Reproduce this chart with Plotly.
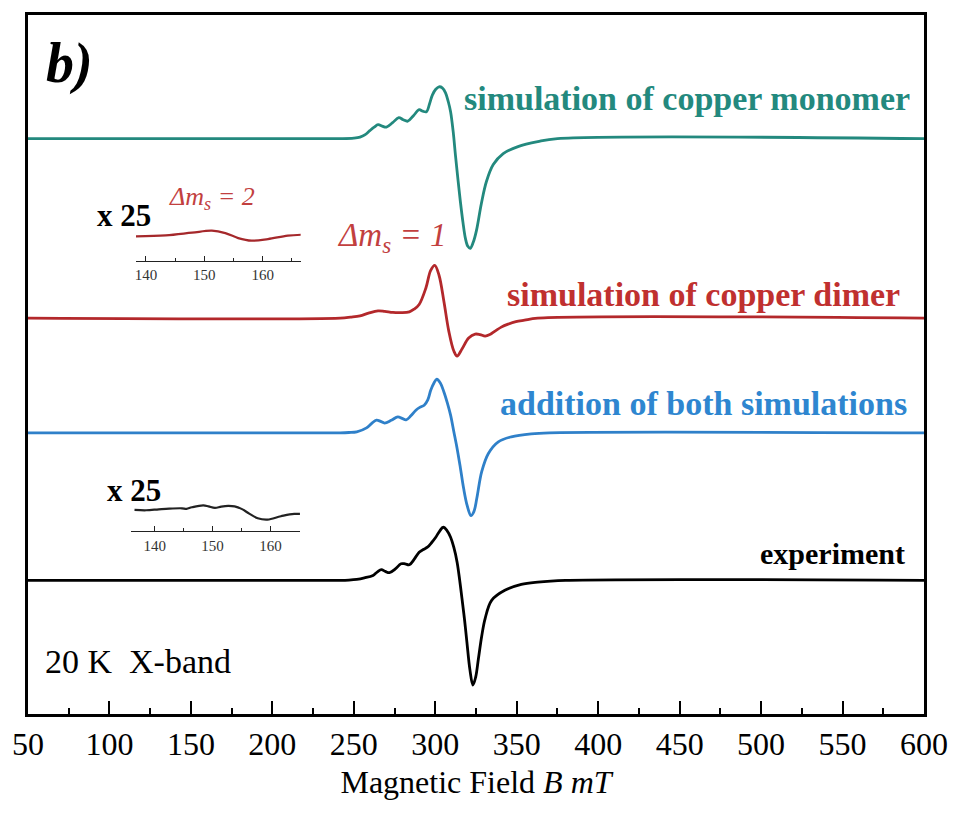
import plotly.graph_objects as go

# ---------------- data (field in mT, amplitude in arbitrary units) ----------------
monomer_B = [50, 241.6, 250.0, 253.8, 257.0, 259.8, 262.5, 264.9, 267.5, 270.0, 273.8, 277.6,
             280.3, 283.1, 286.6, 290.1, 292.3, 294.6, 296.5, 298.2, 300.3, 302.3, 304.3,
             306.3, 308.0, 309.4, 311.0, 312.4, 314.0, 315.4, 317.0, 318.5, 320.0, 321.5,
             323.3, 325.3, 328.3, 331.4, 335.6, 341.7, 350.8, 362.9, 375, 600]
monomer_A = [0, 0, 0.5, 1.5, 4, 8, 11.5, 14, 12.5, 11.5, 16, 21,
             19, 17.5, 23, 29, 27.5, 27, 35, 43.7, 49.5, 52, 51,
             46, 37, 27, 7, -16.7, -42, -63, -84, -100, -108, -110,
             -104, -92, -65, -43, -26, -15, -8, -3, 0, 0]

dimer_B = [50, 241.6, 248, 253.8, 259, 264.9, 269, 274.0, 279, 284.1, 287, 290.1, 294.2,
           297.2, 299.7, 302.3, 305.3, 308.3, 311.4, 313.4, 316.4, 320.5, 324.5, 327.5,
           330.6, 333.5, 336.7, 340.5, 344.7, 349.5, 354.8, 362.9, 600]
dimer_A = [0, 0, 1, 2.3, 5, 7.3, 6.8, 5.7, 5.5, 6.3, 9, 13.7, 30,
           48, 53, 43, 16.7, -13, -33, -38, -31, -20, -16, -16.5,
           -18, -16.5, -13, -9, -6, -3.5, -2, 0, 0]

sum_B = [50, 241.6, 247, 251.8, 257.8, 261, 263.9, 266.4, 268.9, 273, 277.0, 279.6, 282.1,
         285, 288.1, 290.5, 293.2, 295.4, 297.2, 299.2, 300.9, 303.1, 305.3, 307.4, 309.4,
         311.4, 313.4, 315.4, 317.4, 319.6, 321.9, 323.7, 325.5, 328.5, 332.6, 338.7,
         346.7, 358.9, 370, 600]
sum_A = [0, 0, 0.3, 1, 5, 9.5, 12.7, 11.5, 9.8, 12.5, 16, 14.5, 13,
         17, 22.7, 25.5, 27.7, 33, 42.7, 50, 53.7, 50, 41, 30, 17.7,
         1, -15.7, -35, -55.7, -73, -83, -79, -65.7, -39, -20.7, -9,
         -4, -1, 0, 0]

exp_B = [50, 241.6, 247, 251.8, 256.5, 261.8, 264.5, 266.9, 269.3, 271.9, 275.5, 279.0,
         281.5, 284.1, 287, 290.1, 292.7, 295.2, 297.8, 300.3, 302.7, 304.9, 307.2, 309.4,
         311.4, 313.4, 315.0, 316.4, 318.0, 319.4, 321.3, 323.1, 324.8, 326.5, 328.5,
         330.6, 334.6, 342.7, 352.8, 362.9, 380, 600]
exp_A = [0, 0, 0.3, 1, 2.5, 5, 8.5, 10.7, 9, 7.7, 11.5, 16.7,
         16.5, 15.7, 21, 28.3, 31, 33.3, 38, 43.3, 49.5, 53.3, 50, 43.3,
         33, 18.3, 0, -18.3, -40, -61.7, -90, -105, -97, -78.3, -56,
         -38.3, -20, -10, -4, -1.7, 0, 0]

# insets (x 25 magnified half-field region)
ins_dimer_B = [138.3, 143.4, 147.9, 151.3, 153.6, 155.8, 158.1, 160.9, 164.3, 166.9]
ins_dimer_A = [0, 1, 3.7, 5.7, 3.3, -1.7, -4.3, -2.7, 0.7, 1.7]

ins_exp_B = [136.5, 138.5, 140.7, 142.5, 144.7, 145.5, 146.4, 148.4, 149.3, 150.4, 151.5,
             152.7, 153.8, 155.0, 156.4, 157.8, 159.5, 161.8, 164.1, 166.4]
ins_exp_A = [0.7, 0.3, 1.3, 2.0, 2.3, 1.8, 3.3, 5.3, 4.2, 2.7, 4.0,
             4.7, 4.2, 1.7, -3.3, -7.7, -9, -5.7, -3.3, -4]

x_ticks = [50, 100, 150, 200, 250, 300, 350, 400, 450, 500, 550, 600]
inset_ticks = [140, 150, 160]

# ---------------- layout constants ----------------
OFF_MONO, OFF_DIMER, OFF_SUM, OFF_EXP = 577, 397, 282, 134
C_TEAL = "#23897e"
C_RED = "#b3282b"
C_RED_TXT = "#c0302f"
C_RED_LIGHT = "#c2403f"
C_BLUE = "#2f80c9"
C_BLUE_TXT = "#2e86d0"
FONT = "Liberation Serif"

fig = go.Figure()

def add_main(B, A, off, color):
    fig.add_trace(go.Scatter(x=B, y=[a + off for a in A], mode="lines",
                             line=dict(color=color, width=2.8, shape="spline", smoothing=1.0),
                             showlegend=False, hoverinfo="skip"))

add_main(monomer_B, monomer_A, OFF_MONO, C_TEAL)
add_main(dimer_B, dimer_A, OFF_DIMER, C_RED)
add_main(sum_B, sum_A, OFF_SUM, C_BLUE)
add_main(exp_B, exp_A, OFF_EXP, "black")

fig.add_trace(go.Scatter(x=ins_dimer_B, y=ins_dimer_A, mode="lines", xaxis="x2", yaxis="y2",
                         line=dict(color="#a5282b", width=2.2, shape="spline"),
                         showlegend=False, hoverinfo="skip"))
fig.add_trace(go.Scatter(x=ins_exp_B, y=ins_exp_A, mode="lines", xaxis="x3", yaxis="y3",
                         line=dict(color="#222", width=2.2, shape="spline"),
                         showlegend=False, hoverinfo="skip"))

inset_x = dict(showline=True, linecolor="#222", linewidth=1.3, ticks="inside", ticklen=5,
               tickwidth=1.2, tickcolor="#222", tickvals=inset_ticks, showgrid=False,
               zeroline=False, tickfont=dict(family=FONT, size=15, color="#333"),
               minor=dict(dtick=5, ticks="inside", ticklen=3, tickwidth=1, tickcolor="#222"))
inset_y = dict(visible=False, showgrid=False, zeroline=False)

fig.update_layout(
    width=960, height=816,
    margin=dict(l=24, r=29, t=13, b=102),
    paper_bgcolor="white", plot_bgcolor="white",
    xaxis=dict(range=[50, 600], tickvals=x_ticks, ticks="inside", ticklen=13, tickwidth=2,
               tickcolor="black", showline=True, linecolor="black", linewidth=2.6, mirror=True,
               showgrid=False, zeroline=False,
               tickfont=dict(family=FONT, size=32, color="black"),
               minor=dict(dtick=25, ticks="inside", ticklen=6, tickwidth=2, tickcolor="black"),
               title=dict(text="Magnetic Field <i>B mT</i>", font=dict(family=FONT, size=32, color="black"),
                          standoff=10)),
    yaxis=dict(range=[0, 701], showticklabels=False, ticks="", showline=True, linecolor="black",
               linewidth=2.6, mirror=True, showgrid=False, zeroline=False),
    xaxis2=dict(inset_x, domain=[0.1202, 0.3043], range=[138.25, 166.5], anchor="y2"),
    yaxis2=dict(inset_y, domain=[0.6476, 0.7047], range=[-25, 15], anchor="x2"),
    xaxis3=dict(inset_x, domain=[0.1150, 0.3035], range=[135.9, 165.1], anchor="y3"),
    yaxis3=dict(inset_y, domain=[0.2611, 0.3124], range=[-21, 15], anchor="x3"),
)

def note(text, x, y, xanchor, size, color="black", bold=False, italic=False):
    t = text
    if italic:
        t = "<i>" + t + "</i>"
    if bold:
        t = "<b>" + t + "</b>"
    fig.add_annotation(text=t, x=x, y=y, xref="paper", yref="paper", xanchor=xanchor,
                       yanchor="middle", showarrow=False,
                       font=dict(family=FONT, size=size, color=color))

note("b)", 0.0180, 0.9301, "left", 56, bold=True, italic=True)
note("simulation of copper monomer", 0.9870, 0.8810, "right", 34, C_TEAL, bold=True)
note("simulation of copper dimer", 0.9760, 0.6000, "right", 34, C_RED_TXT, bold=True)
note("addition of both simulations", 0.9830, 0.4445, "right", 34, C_BLUE_TXT, bold=True)
note("experiment", 0.9810, 0.2290, "right", 30, "black", bold=True)
note("Δm<sub>s</sub> = 1", 0.3429, 0.6819, "left", 33, C_RED_LIGHT, italic=True)
note("Δm<sub>s</sub> = 2", 0.1555, 0.7375, "left", 26, C_RED_LIGHT, italic=True)
note("x 25", 0.0750, 0.7133, "left", 31, "black", bold=True)
note("x 25", 0.0860, 0.3195, "left", 31, "black", bold=True)
note("20 K\u00a0 X-band", 0.0170, 0.0756, "left", 34, "black")

fig.write_html("out.html")
